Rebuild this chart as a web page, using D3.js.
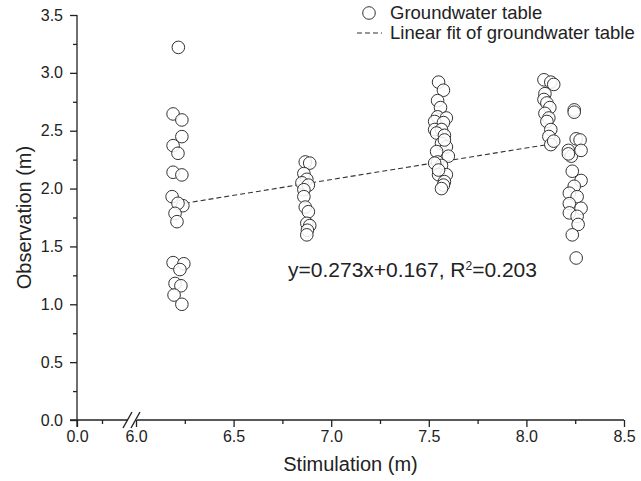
<!DOCTYPE html>
<html><head>
<meta charset="utf-8">
<script src="https://d3js.org/d3.v7.min.js"></script>
<style>
  body { margin: 0; background: #fff; }
  text { font-family: "Liberation Sans", Arial, sans-serif; fill: #222; }
  .axis path, .axis line { stroke: #222; stroke-width: 1.3; }
  .axis text { font-size: 16px; fill: #222; }
</style>
</head>
<body>
<div id="container" style="width: 641px; height: 481px;"></div>
<script>

// Observation vs stimulation, one pair per measurement, four groups
const stimA = [6.217, 6.19, 6.235, 6.235, 6.19, 6.215, 6.19, 6.235, 6.185, 6.24, 6.215, 6.2, 6.21, 6.19, 6.245, 6.225, 6.2, 6.23, 6.195, 6.235];
const obsA  = [3.22, 2.645, 2.593, 2.449, 2.371, 2.305, 2.141, 2.118, 1.93, 1.852, 1.873, 1.786, 1.714, 1.36, 1.35, 1.30, 1.18, 1.16, 1.08, 1.00];

const stimB = [6.867, 6.89, 6.86, 6.875, 6.85, 6.883, 6.86, 6.86, 6.867, 6.883, 6.875, 6.89, 6.878, 6.875];
const obsB  = [2.23, 2.22, 2.13, 2.08, 2.05, 2.03, 1.99, 1.93, 1.84, 1.80, 1.70, 1.68, 1.64, 1.60];

const stimC = [7.55, 7.575, 7.545, 7.56, 7.545, 7.59, 7.53, 7.575, 7.53, 7.565, 7.54, 7.58, 7.565, 7.59, 7.54, 7.60, 7.545, 7.565, 7.53, 7.55, 7.59, 7.58, 7.575, 7.565, 7.55, 7.58];
const obsC  = [2.92, 2.85, 2.76, 2.70, 2.62, 2.61, 2.58, 2.57, 2.51, 2.51, 2.48, 2.46, 2.39, 2.36, 2.32, 2.28, 2.23, 2.20, 2.22, 2.12, 2.12, 2.06, 2.03, 2.00, 2.16, 2.42];

const stimD = [8.09, 8.125, 8.14, 8.095, 8.09, 8.105, 8.12, 8.095, 8.115, 8.105, 8.125, 8.115, 8.125, 8.14,
               8.245, 8.245, 8.255, 8.275, 8.215, 8.23, 8.215, 8.28, 8.235, 8.28, 8.245, 8.22, 8.26, 8.22, 8.28, 8.22, 8.26, 8.265, 8.235, 8.255];
const obsD  = [2.94, 2.92, 2.90, 2.82, 2.77, 2.74, 2.70, 2.65, 2.61, 2.58, 2.51, 2.45, 2.38, 2.41,
               2.68, 2.66, 2.43, 2.42, 2.33, 2.28, 2.30, 2.33, 2.15, 2.07, 2.02, 1.96, 1.93, 1.87, 1.83, 1.79, 1.76, 1.69, 1.60, 1.40];

// linear fit
const fitSlope = 0.273;
const fitIntercept = 0.167;
const fitR2 = "0.203";
const fitRange = [6.25, 8.157];

const xTicksLeft = [0.0];
const xMinorLeft = [0.25];
const xTicks = [6.0, 6.5, 7.0, 7.5, 8.0, 8.5];
const xMinor = [6.25, 6.75, 7.25, 7.75, 8.25];
const yTicks = [0.0, 0.5, 1.0, 1.5, 2.0, 2.5, 3.0, 3.5];
const yMinor = [0.25, 0.75, 1.25, 1.75, 2.25, 2.75, 3.25];

const legendLabels = ["Groundwater table", "Linear fit of groundwater table"];

const points = [];
[[stimA, obsA], [stimB, obsB], [stimC, obsC], [stimD, obsD]].forEach(pair => {
  pair[0].forEach((s, i) => points.push({ x: s, y: pair[1][i] }));
});

const width = 641, height = 481;
const svg = d3.select("#container").append("svg")
              .attr("width", width).attr("height", height);

// broken x axis: two scales
const xLeft = d3.scaleLinear().domain([0, 0.5]).range([77, 127]);
const xScale = d3.scaleLinear().domain([6.0, 8.5]).range([136, 624]);
const yScale = d3.scaleLinear().domain([0, 3.5]).range([420, 15]);
const axisY = yScale(0);

// x axis, right part
const xg = svg.append("g").attr("class", "axis").attr("transform", "translate(0," + axisY + ")");
xg.append("g").call(d3.axisBottom(xScale).tickValues(xTicks).tickSize(7).tickPadding(4)
                    .tickFormat(d3.format(".1f")));
xg.append("g").call(d3.axisBottom(xScale).tickValues(xMinor).tickSize(4).tickFormat(""));
xg.selectAll("path.domain").remove();
xg.append("line").attr("x1", xScale(6.0) + 1).attr("x2", xScale(8.5)).attr("stroke", "#222").attr("stroke-width", 1.3);

// x axis, left part
const xgl = svg.append("g").attr("class", "axis").attr("transform", "translate(0," + axisY + ")");
xgl.append("g").call(d3.axisBottom(xLeft).tickValues(xTicksLeft).tickSize(7).tickPadding(4)
                     .tickFormat(d3.format(".1f")));
xgl.append("g").call(d3.axisBottom(xLeft).tickValues(xMinorLeft).tickSize(4).tickFormat(""));
xgl.selectAll("path.domain").remove();
xgl.append("line").attr("x1", xLeft(0) - 7).attr("x2", xLeft(0.5) + 1).attr("stroke", "#222").attr("stroke-width", 1.3);

// break marks
[xLeft(0.5) + 1, xScale(6.0)].forEach(bx => {
  svg.append("line").attr("x1", bx - 5).attr("y1", axisY + 8).attr("x2", bx + 4).attr("y2", axisY - 8)
     .attr("stroke", "#222").attr("stroke-width", 1.4);
});

// y axis
const yg = svg.append("g").attr("class", "axis").attr("transform", "translate(" + xLeft(0) + ",0)");
yg.append("g").call(d3.axisLeft(yScale).tickValues(yTicks).tickSize(7).tickPadding(7)
                    .tickFormat(d3.format(".1f")));
yg.append("g").call(d3.axisLeft(yScale).tickValues(yMinor).tickSize(4).tickFormat(""));
yg.selectAll("path.domain").remove();
yg.append("line").attr("y1", yScale(3.5)).attr("y2", axisY + 7).attr("stroke", "#222").attr("stroke-width", 1.3);

// axis titles
svg.append("text").attr("x", (xLeft(0) + xScale(8.5)) / 2).attr("y", 471)
   .attr("text-anchor", "middle").style("font-size", "20px").text("Stimulation (m)");
svg.append("text").attr("transform", "translate(31," + (yScale(0) + yScale(3.5)) / 2 + ") rotate(-90)")
   .attr("text-anchor", "middle").style("font-size", "20px").text("Observation (m)");

// fit line
svg.append("line")
   .attr("x1", xScale(fitRange[0])).attr("y1", yScale(fitSlope * fitRange[0] + fitIntercept))
   .attr("x2", xScale(fitRange[1])).attr("y2", yScale(fitSlope * fitRange[1] + fitIntercept))
   .attr("stroke", "#333").attr("stroke-width", 1.1).attr("stroke-dasharray", "5,3");

// points
svg.append("g").selectAll("circle").data(points).join("circle")
   .attr("cx", d => xScale(d.x)).attr("cy", d => yScale(d.y)).attr("r", 6.3)
   .attr("fill", "#fff").attr("fill-opacity", 0.85)
   .attr("stroke", "#333").attr("stroke-width", 1);

// equation
const eq = svg.append("text").attr("x", 288).attr("y", 277).style("font-size", "21px");
eq.append("tspan").text("y=" + fitSlope + "x+" + fitIntercept + ", R");
eq.append("tspan").attr("dy", -7).style("font-size", "12px").text("2");
eq.append("tspan").attr("dy", 7).text("=" + fitR2);

// legend
const lx = 390;
svg.append("circle").attr("cx", lx - 21).attr("cy", 13).attr("r", 6.3)
   .attr("fill", "#fff").attr("stroke", "#333").attr("stroke-width", 1);
svg.append("line").attr("x1", lx - 33).attr("x2", lx - 8).attr("y1", 33).attr("y2", 33)
   .attr("stroke", "#333").attr("stroke-width", 1.1).attr("stroke-dasharray", "5,3");
legendLabels.forEach((t, i) => {
  svg.append("text").attr("x", lx).attr("y", 19 + i * 20).style("font-size", "18.5px").text(t);
});

</script>
</body>
</html>
